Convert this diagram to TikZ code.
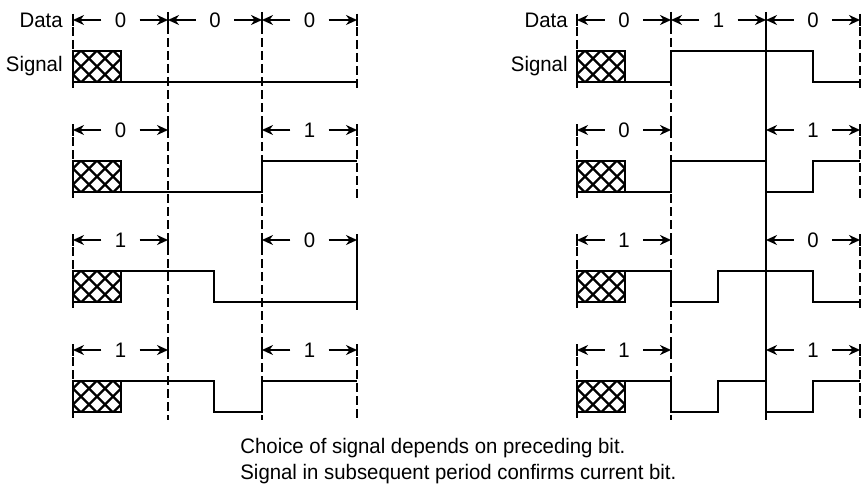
\documentclass[tikz,border=0pt]{standalone}
\usepackage{fontspec}
\setmainfont{Liberation Sans}[FakeStretch=0.97]
\usetikzlibrary{arrows.meta}

\newcommand{\bitspan}[5]{%
  \node[lbl, inner xsep=6.5pt] (#1) at ({(#2+#3)/2},#4) {#5};
  \coordinate (#1l) at (#2,#4);
  \coordinate (#1r) at (#3,#4);
  \draw[per] (#1) -- (#1l);
  \draw[per] (#1) -- (#1r);
  \draw[sig] (#2,#4-6) -- (#2,#4+6);
  \draw[sig] (#3,#4-6) -- (#3,#4+6);}
\newcommand{\hatchbox}[2]{%
  \begin{scope}
    \clip (#1,#2) rectangle ++(48,31);
    \foreach \c in {-24,-8,...,72} {
      \draw[hatch] (#1+\c-15.5,#2) -- ++(31,31);
      \draw[hatch] (#1+\c-15.5,#2+31) -- ++(31,-31);}
  \end{scope}
  \draw[sig] (#1,#2) rectangle ++(48,31);}

\begin{document}
\begin{tikzpicture}[x=0.5pt,y=-0.5pt,
    sig/.style={line width=1.4pt},
    bound/.style={line width=1.4pt, dash pattern=on 4.5pt off 2pt},
    per/.style={-{Stealth[length=5.5pt,width=5pt]}, line width=1.4pt},
    hatch/.style={line width=1.2pt},
    lbl/.style={font=\fontsize{10.5}{12.5}\selectfont, inner sep=0pt}]
  \useasboundingbox (0,0) rectangle (865,492);

  % period boundaries
  \foreach \xa in {168,262,671} \draw[bound] (\xa,12) -- (\xa,420);
  \draw[sig] (766,12) -- (766,420);
  \foreach \b in {20,130,240,350} {
    \draw[bound] (73,\b-6) -- (73,\b+69);
    \draw[bound] (577,\b-6) -- (577,\b+69);
    \draw[bound] (860,\b-6) -- (860,\b+69);}
  \foreach \b in {20,130,350} \draw[bound] (357,\b-6) -- (357,\b+69);
  \draw[sig] (357,234) -- (357,310);

  \node[lbl, anchor=east] (dataL) at (63,20) {Data};
  \node[lbl, anchor=east] (signalL) at (63,66) {Signal};
  \node[lbl, anchor=east] (dataR) at (568,20) {Data};
  \node[lbl, anchor=east] (signalR) at (568,66) {Signal};

  % left: bit labels
  \bitspan{la1}{73}{168}{20}{0}
  \bitspan{la2}{168}{262}{20}{0}
  \bitspan{la3}{262}{357}{20}{0}
  \bitspan{lb1}{73}{168}{130}{0}
  \bitspan{lb3}{262}{357}{130}{1}
  \bitspan{lc1}{73}{168}{240}{1}
  \bitspan{lc3}{262}{357}{240}{0}
  \bitspan{ld1}{73}{168}{350}{1}
  \bitspan{ld3}{262}{357}{350}{1}

  % right: bit labels
  \bitspan{ra1}{577}{671}{20}{0}
  \bitspan{ra2}{671}{766}{20}{1}
  \bitspan{ra3}{766}{860}{20}{0}
  \bitspan{rb1}{577}{671}{130}{0}
  \bitspan{rb3}{766}{860}{130}{1}
  \bitspan{rc1}{577}{671}{240}{1}
  \bitspan{rc3}{766}{860}{240}{0}
  \bitspan{rd1}{577}{671}{350}{1}
  \bitspan{rd3}{766}{860}{350}{1}

  \foreach \b in {51,161,271,381} {
    \hatchbox{73}{\b}
    \hatchbox{577}{\b}}

  % left signals
  \draw[sig] (121,82) -- (357,82);
  \draw[sig] (121,192) -- (262,192) -- (262,161) -- (357,161);
  \draw[sig] (121,271) -- (214,271) -- (214,302) -- (357,302);
  \draw[sig] (121,381) -- (214,381) -- (214,412) -- (262,412) -- (262,381) -- (357,381);

  % right signals
  \draw[sig] (625,82) -- (671,82) -- (671,51) -- (813,51) -- (813,82) -- (860,82);
  \draw[sig] (625,192) -- (671,192) -- (671,161) -- (766,161) -- (766,192)
    -- (813,192) -- (813,161) -- (860,161);
  \draw[sig] (625,271) -- (671,271) -- (671,302) -- (718,302) -- (718,271)
    -- (813,271) -- (813,302) -- (860,302);
  \draw[sig] (625,381) -- (671,381) -- (671,412) -- (718,412) -- (718,381)
    -- (766,381) -- (766,412) -- (813,412) -- (813,381) -- (860,381);

  \node[lbl, anchor=west] (note1) at (240,448) {Choice of signal depends on preceding bit.};
  \node[lbl, anchor=west] (note2) at (240,474) {Signal in subsequent period confirms current bit.};
\end{tikzpicture}
\end{document}
